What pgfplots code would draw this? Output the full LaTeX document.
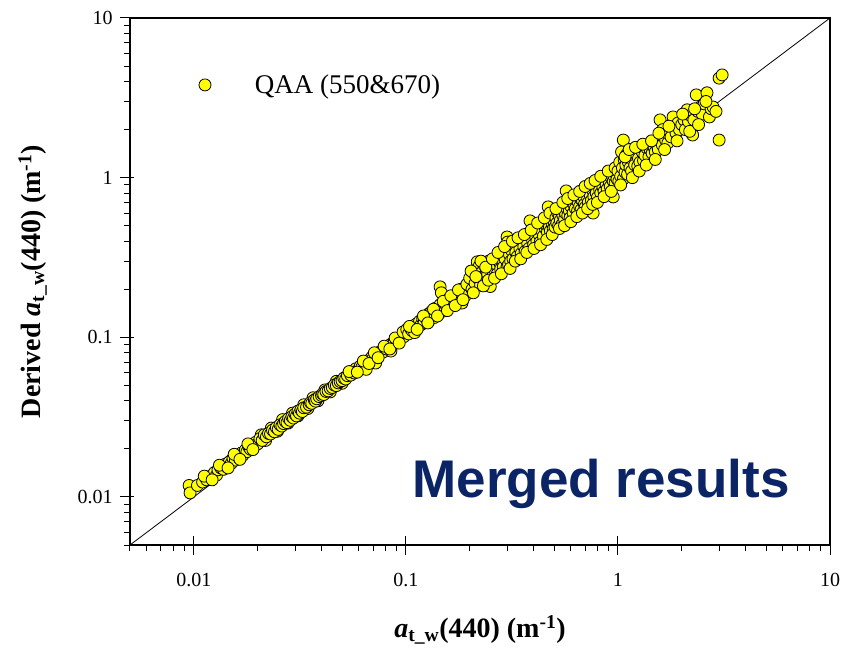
\documentclass[border=0pt]{standalone}
\usepackage{pgfplots}
\pgfplotsset{compat=1.18}
\usepackage{fontspec}
\setmainfont{Liberation Serif}
\newfontfamily\arialfont{Liberation Sans}
\definecolor{navytxt}{HTML}{0A2465}
\definecolor{ptyellow}{RGB}{255,255,0}
\begin{document}
\begin{tikzpicture}
\begin{axis}[
  name=ax, at={(0,0)}, anchor=south west,
  scale only axis, width=700pt, height=527pt,
  xmode=log, ymode=log,
  xmin=0.005, xmax=10, ymin=0.005, ymax=10,
  axis line style={line width=1.3pt},
  every tick/.style={black, line width=1pt},
  tick align=outside,
  major tick length=10pt, minor tick length=6pt,
  xtick pos=bottom, ytick pos=left,
  xtick={0.01,0.1,1,10}, ytick={0.01,0.1,1,10},
  xticklabels={0.01,0.1,1,10}, yticklabels={0.01,0.1,1,10},
  minor xtick={0.005,0.006,0.007,0.008,0.009,0.02,0.03,0.04,0.05,0.06,0.07,0.08,0.09,0.2,0.3,0.4,0.5,0.6,0.7,0.8,0.9,2,3,4,5,6,7,8,9},
  minor ytick={0.005,0.006,0.007,0.008,0.009,0.02,0.03,0.04,0.05,0.06,0.07,0.08,0.09,0.2,0.3,0.4,0.5,0.6,0.7,0.8,0.9,2,3,4,5,6,7,8,9},
  extra x ticks={0.01,0.1,1,10}, extra x tick labels={,,,},
  extra x tick style={tick align=inside, major tick length=9pt},
  extra y ticks={0.01,0.1,1,10}, extra y tick labels={,,,},
  extra y tick style={tick align=inside, major tick length=4pt},
  tick label style={font=\fontsize{20}{24}\selectfont},
  xticklabel shift=15pt, yticklabel shift=4pt,
  xlabel={\textbf{\textit{a}}\textsubscript{\textbf{t\_w}}\textbf{(440) (m\textsuperscript{-1})}},
  ylabel={\textbf{Derived \textit{a}}\textsubscript{\textbf{t\_w}}\textbf{(440) (m\textsuperscript{-1})}},
  xlabel style={font=\fontsize{28}{32}\selectfont, at={(axis description cs:0.5,-0.161)}, anchor=center},
  ylabel style={font=\fontsize{28}{32}\selectfont, at={(axis description cs:-0.139,0.5)}, anchor=center, rotate=0},
  legend style={draw=none, fill=none, at={(axis description cs:0.094,0.873)}, anchor=west,
    font=\fontsize{27}{30}\selectfont, /tikz/every odd column/.append style={column sep=42pt}},
  legend cell align=left,
]
\addplot[only marks, mark=*, mark size=6pt, mark options={fill=ptyellow, draw=black, line width=0.8pt}] table[row sep=\\] {
x y\\
0.0095 0.0118\\ 0.0096 0.0106\\ 0.0104 0.0118\\ 0.011 0.0124\\ 0.0115 0.0128\\ 0.012 0.0135\\ 0.0125 0.0142\\ 0.0128 0.0137\\
0.013 0.0148\\ 0.0134 0.0152\\ 0.0138 0.0149\\ 0.014 0.016\\ 0.0143 0.0155\\ 0.0147 0.0166\\ 0.015 0.0162\\ 0.0153 0.0175\\
0.0157 0.017\\ 0.016 0.0183\\ 0.0163 0.0176\\ 0.0167 0.0188\\ 0.017 0.0182\\ 0.0175 0.0197\\ 0.0178 0.0192\\ 0.0182 0.0205\\
0.0185 0.0199\\ 0.0188 0.0212\\ 0.0192 0.0206\\ 0.0196 0.022\\ 0.02 0.0215\\
0.0112 0.0135\\ 0.0122 0.0128\\ 0.0132 0.0158\\ 0.0145 0.0152\\ 0.0155 0.0185\\ 0.0165 0.0172\\ 0.018 0.0215\\ 0.019 0.0198\\
0.0208 0.0245\\ 0.0218 0.0226\\ 0.0232 0.027\\ 0.0248 0.0258\\ 0.0262 0.0305\\ 0.0278 0.029\\ 0.0292 0.0335\\ 0.031 0.0322\\
0.033 0.0378\\ 0.0345 0.0358\\ 0.0365 0.0418\\ 0.0385 0.04\\ 0.0415 0.0468\\ 0.044 0.0455\\ 0.047 0.053\\ 0.05 0.0515\\
0.0205 0.0232\\ 0.021 0.0226\\ 0.0215 0.0245\\ 0.022 0.0238\\ 0.0225 0.025\\ 0.023 0.0248\\ 0.0235 0.0262\\ 0.024 0.0256\\
0.0245 0.0272\\ 0.025 0.0265\\ 0.0255 0.0283\\ 0.026 0.0278\\ 0.0265 0.0288\\ 0.027 0.0297\\ 0.0275 0.0292\\ 0.028 0.031\\
0.0285 0.0302\\ 0.029 0.0318\\ 0.0295 0.0312\\ 0.03 0.033\\ 0.0305 0.0322\\ 0.031 0.0345\\ 0.0315 0.0335\\ 0.032 0.0352\\
0.0325 0.0343\\ 0.033 0.0362\\ 0.034 0.0365\\ 0.035 0.0378\\ 0.0355 0.039\\ 0.036 0.0386\\ 0.037 0.0405\\ 0.0375 0.0398\\
0.038 0.0412\\ 0.039 0.0425\\ 0.04 0.0432\\ 0.0405 0.0442\\ 0.041 0.0438\\ 0.042 0.0458\\ 0.043 0.0462\\ 0.044 0.0478\\
0.045 0.0485\\ 0.046 0.0502\\ 0.047 0.0498\\ 0.048 0.0518\\ 0.049 0.0528\\ 0.05 0.0535\\
0.051 0.0555\\ 0.052 0.0548\\ 0.053 0.0575\\ 0.055 0.058\\ 0.056 0.0612\\ 0.057 0.0598\\ 0.058 0.0635\\ 0.06 0.0632\\
0.061 0.066\\ 0.062 0.0648\\ 0.064 0.0695\\ 0.065 0.068\\ 0.065 0.063\\ 0.066 0.0712\\ 0.068 0.0705\\ 0.069 0.075\\ 0.07 0.0738\\
0.072 0.0782\\ 0.072 0.069\\ 0.073 0.0755\\ 0.075 0.08\\ 0.076 0.0815\\ 0.078 0.0808\\ 0.08 0.0862\\ 0.081 0.0845\\ 0.083 0.088\\
0.085 0.0905\\ 0.085 0.082\\ 0.086 0.0885\\ 0.088 0.0935\\ 0.09 0.0965\\ 0.092 0.0948\\ 0.094 0.1\\ 0.096 0.102\\ 0.098 0.101\\ 0.1 0.107\\
0.054 0.061\\ 0.059 0.0605\\ 0.063 0.071\\ 0.067 0.0685\\ 0.071 0.08\\ 0.074 0.0745\\ 0.079 0.088\\ 0.084 0.0845\\ 0.089 0.099\\
0.093 0.092\\ 0.097 0.108\\
0.101 0.112\\ 0.103 0.105\\ 0.105 0.114\\ 0.107 0.11\\ 0.109 0.118\\ 0.11 0.107\\ 0.112 0.121\\ 0.114 0.116\\ 0.116 0.126\\
0.118 0.12\\ 0.12 0.131\\ 0.122 0.124\\ 0.124 0.135\\ 0.126 0.128\\ 0.128 0.14\\ 0.13 0.129\\ 0.132 0.145\\ 0.134 0.138\\
0.136 0.133\\ 0.138 0.152\\ 0.14 0.145\\ 0.142 0.138\\ 0.145 0.207\\ 0.147 0.19\\ 0.145 0.16\\ 0.148 0.15\\ 0.15 0.146\\
0.152 0.168\\ 0.155 0.158\\ 0.158 0.152\\ 0.16 0.175\\ 0.162 0.165\\ 0.168 0.172\\ 0.17 0.162\\ 0.172 0.185\\ 0.175 0.178\\
0.178 0.17\\ 0.18 0.192\\ 0.182 0.2\\ 0.184 0.164\\ 0.185 0.185\\ 0.188 0.178\\ 0.19 0.205\\ 0.193 0.195\\ 0.196 0.188\\ 0.2 0.21\\
0.104 0.117\\ 0.113 0.112\\ 0.121 0.136\\ 0.127 0.123\\ 0.135 0.15\\ 0.141 0.136\\ 0.15 0.168\\ 0.157 0.147\\ 0.163 0.182\\
0.171 0.158\\ 0.177 0.198\\ 0.186 0.172\\ 0.194 0.215\\
0.2 0.235\\ 0.205 0.2\\ 0.21 0.25\\ 0.212 0.218\\ 0.215 0.27\\ 0.217 0.297\\ 0.22 0.232\\ 0.222 0.28\\ 0.225 0.212\\
0.228 0.255\\ 0.23 0.24\\ 0.233 0.285\\ 0.236 0.222\\ 0.24 0.262\\ 0.243 0.248\\ 0.246 0.3\\ 0.25 0.208\\ 0.252 0.27\\
0.255 0.29\\ 0.258 0.245\\ 0.26 0.31\\ 0.264 0.262\\ 0.268 0.285\\ 0.27 0.25\\ 0.274 0.32\\ 0.278 0.29\\ 0.28 0.268\\
0.284 0.305\\ 0.288 0.275\\ 0.29 0.34\\ 0.294 0.31\\ 0.298 0.36\\ 0.3 0.425\\ 0.3 0.276\\ 0.302 0.395\\ 0.305 0.285\\ 0.308 0.33\\
0.312 0.3\\ 0.315 0.35\\ 0.32 0.31\\ 0.325 0.375\\ 0.33 0.34\\ 0.335 0.32\\ 0.34 0.39\\ 0.345 0.36\\ 0.35 0.335\\
0.355 0.4\\ 0.36 0.37\\ 0.365 0.345\\ 0.37 0.42\\ 0.375 0.39\\ 0.38 0.36\\ 0.385 0.536\\ 0.39 0.44\\ 0.395 0.41\\
0.4 0.38\\ 0.405 0.45\\ 0.41 0.425\\ 0.415 0.4\\ 0.42 0.48\\ 0.425 0.44\\ 0.43 0.395\\ 0.435 0.5\\ 0.44 0.46\\ 0.445 0.43\\
0.469 0.656\\ 0.47 0.56\\ 0.455 0.48\\ 0.46 0.5\\ 0.465 0.455\\ 0.47 0.52\\ 0.475 0.49\\ 0.48 0.465\\ 0.485 0.55\\ 0.49 0.51\\
0.495 0.48\\ 0.5 0.53\\
0.203 0.26\\ 0.208 0.19\\ 0.214 0.24\\ 0.226 0.3\\ 0.232 0.21\\ 0.238 0.275\\ 0.245 0.228\\ 0.256 0.31\\ 0.262 0.235\\
0.272 0.34\\ 0.282 0.25\\ 0.292 0.37\\ 0.31 0.27\\ 0.318 0.4\\ 0.328 0.3\\ 0.338 0.42\\ 0.348 0.31\\ 0.362 0.44\\ 0.372 0.34\\
0.39 0.47\\ 0.402 0.36\\ 0.418 0.52\\ 0.432 0.38\\ 0.45 0.56\\ 0.462 0.41\\ 0.478 0.6\\ 0.49 0.44\\
0.505 0.49\\ 0.51 0.56\\ 0.515 0.52\\ 0.52 0.6\\ 0.525 0.5\\ 0.53 0.57\\ 0.535 0.54\\ 0.54 0.62\\ 0.545 0.51\\ 0.55 0.58\\
0.555 0.66\\ 0.56 0.55\\ 0.565 0.6\\ 0.57 0.826\\ 0.575 0.64\\ 0.58 0.58\\ 0.585 0.7\\ 0.59 0.62\\ 0.595 0.56\\ 0.6 0.66\\
0.61 0.72\\ 0.615 0.6\\ 0.62 0.68\\ 0.63 0.64\\ 0.635 0.75\\ 0.64 0.78\\ 0.645 0.62\\ 0.65 0.7\\ 0.66 0.66\\ 0.665 0.74\\
0.67 0.63\\ 0.68 0.72\\ 0.69 0.76\\ 0.695 0.68\\ 0.7 0.65\\ 0.71 0.8\\ 0.72 0.74\\ 0.725 0.7\\ 0.73 0.85\\ 0.74 0.78\\
0.75 0.72\\ 0.764 0.6\\ 0.765 0.82\\ 0.77 0.76\\ 0.78 0.88\\ 0.79 0.8\\ 0.8 0.75\\ 0.81 0.9\\ 0.82 0.84\\ 0.83 0.8\\
0.84 0.93\\ 0.85 0.87\\ 0.86 0.82\\ 0.87 0.96\\ 0.88 0.9\\ 0.89 0.85\\ 0.9 0.98\\ 0.91 0.93\\ 0.92 0.88\\ 0.93 1.0\\
0.95 0.757\\ 0.95 0.95\\ 0.96 1.02\\ 0.97 0.92\\ 0.98 1.05\\ 0.99 0.98\\
0.51 0.64\\ 0.53 0.48\\ 0.55 0.7\\ 0.56 0.5\\ 0.58 0.74\\ 0.6 0.53\\ 0.62 0.78\\ 0.64 0.57\\ 0.66 0.82\\ 0.68 0.6\\
0.7 0.88\\ 0.72 0.64\\ 0.74 0.92\\ 0.76 0.68\\ 0.78 0.96\\ 0.8 0.7\\ 0.83 1.02\\ 0.86 0.76\\ 0.9 1.1\\ 0.93 0.82\\ 0.97 1.15\\
1.0 1.1\\ 1.01 0.95\\ 1.02 1.25\\ 1.03 1.02\\ 1.04 1.45\\ 1.05 1.15\\ 1.06 1.72\\ 1.06 0.98\\ 1.07 1.3\\ 1.08 1.08\\
1.09 1.2\\ 1.1 1.4\\ 1.11 1.05\\ 1.12 1.25\\ 1.14 1.15\\ 1.15 1.35\\ 1.16 1.1\\ 1.18 1.28\\ 1.2 1.2\\ 1.22 1.4\\
1.24 1.18\\ 1.25 1.32\\ 1.27 1.25\\ 1.3 1.45\\ 1.32 1.28\\ 1.34 1.38\\ 1.37 1.53\\ 1.4 1.35\\ 1.42 1.5\\ 1.45 1.42\\
1.48 1.55\\ 1.5 1.45\\ 1.52 1.62\\ 1.55 1.5\\ 1.58 2.3\\ 1.6 1.7\\ 1.62 1.6\\ 1.63 2.0\\ 1.65 1.8\\ 1.68 1.72\\
1.7 1.9\\ 1.72 1.65\\ 1.75 1.95\\ 1.78 1.8\\ 1.82 2.4\\ 1.85 2.05\\ 1.88 1.9\\ 1.92 2.2\\ 1.95 2.0\\ 2.0 2.15\\
2.05 2.3\\ 2.08 2.0\\ 2.12 2.66\\ 2.15 2.25\\ 2.2 2.45\\ 2.25 1.85\\ 2.28 2.3\\ 2.34 3.3\\ 2.38 2.6\\ 2.45 2.77\\
2.5 2.5\\ 2.55 2.9\\ 2.63 3.4\\ 2.7 2.4\\ 2.75 2.7\\ 2.81 2.77\\ 3.0 1.72\\ 3.0 4.2\\ 3.1 4.4\\
1.03 0.9\\ 1.08 1.35\\ 1.13 1.5\\ 1.17 1.0\\ 1.21 1.55\\ 1.26 1.1\\ 1.31 1.62\\ 1.36 1.2\\ 1.44 1.7\\ 1.5 1.3\\
1.56 1.9\\ 1.66 1.5\\ 1.74 2.1\\ 1.9 1.7\\ 2.02 2.5\\ 2.18 1.95\\ 2.3 2.7\\ 2.4 2.15\\ 2.6 3.0\\ 2.9 2.6\\
};
\addlegendentry{QAA (550\&670)}
\addplot[black, line width=0.8pt, forget plot] coordinates {(0.005,0.005) (10,10)};
\node[anchor=base, font=\arialfont\bfseries\fontsize{53}{60}\selectfont, text=navytxt] at (axis description cs:0.673,0.091) {Merged results};
\end{axis}
\pgfresetboundingbox
\path[use as bounding box] ([shift={(-130pt,-105pt)}]ax.south west) rectangle ([shift={(12pt,18pt)}]ax.north east);
\end{tikzpicture}
\end{document}
